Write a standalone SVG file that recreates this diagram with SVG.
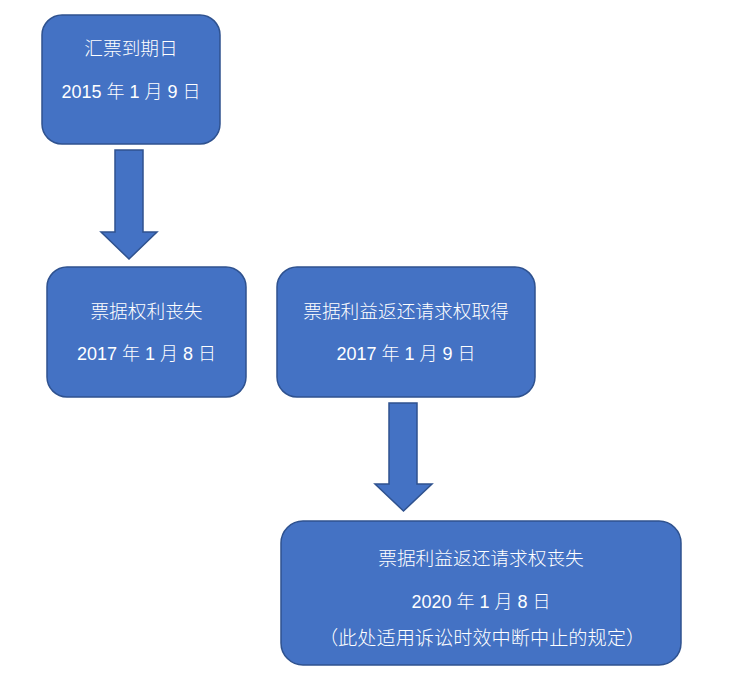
<svg xmlns="http://www.w3.org/2000/svg" width="752" height="683" viewBox="0 0 752 683">
<style>
.box{fill:#4472C4;stroke:#2F528F;stroke-width:1.5}
.arr{fill:#4472C4;stroke:#2F528F;stroke-width:1.5;stroke-linejoin:miter}
text{fill:#ffffff;font-family:"Liberation Sans","Noto Sans CJK SC",sans-serif;font-size:18px;font-weight:300;text-anchor:middle}
.cj{font-size:18.7px}
.cj2{font-size:19.2px}
</style>
<rect width="752" height="683" fill="#ffffff"/>
<g id="connectors">
<path class="arr" d="M115,150 H143 V232 H157 L129,259 L101,232 H115 Z"/>
<path class="arr" d="M389,403 H417 V484 H432 L403.5,511 L375,484 H389 Z"/>
</g>
<g id="node1">
<rect class="box" x="42" y="15" width="178" height="129" rx="20"/>
<text class="cj" x="131" y="55">汇票到期日</text>
<text x="131" y="98">2015 年 1 月 9 日</text>
</g>
<g id="node2">
<rect class="box" x="47" y="267" width="199" height="130" rx="20"/>
<text class="cj" x="146.5" y="318">票据权利丧失</text>
<text x="146.5" y="360">2017 年 1 月 8 日</text>
</g>
<g id="node3">
<rect class="box" x="277" y="267" width="258" height="130" rx="20"/>
<text class="cj" x="406" y="318">票据利益返还请求权取得</text>
<text x="406" y="360">2017 年 1 月 9 日</text>
</g>
<g id="node4">
<rect class="box" x="281" y="521" width="400" height="144" rx="22"/>
<text class="cj" x="481" y="565">票据利益返还请求权丧失</text>
<text x="481" y="608">2020 年 1 月 8 日</text>
<text class="cj2" x="482" y="645">（此处适用诉讼时效中断中止的规定）</text>
</g>
</svg>
